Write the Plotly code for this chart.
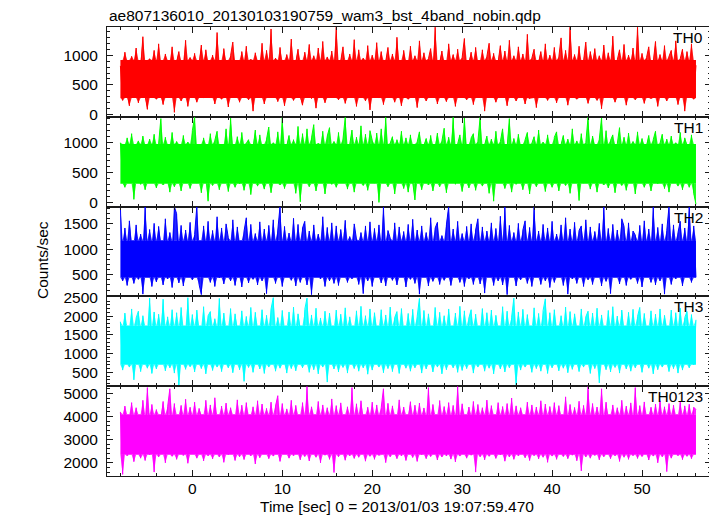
import numpy as np
import plotly.graph_objects as go
from plotly.subplots import make_subplots

# ---------------- data (counts/sec) ----------------
t_start = -8.0      # sec, time of first sample
bin_dt = 0.25       # sec between samples

th0 = [820, 240, 1050, 380, 150, 980, 620, 1120, 200, 760, 1310, 330, 90, 940, 510, 1080,
       260, 1190, 450, 170, 1020, 700, 300, 1140, 40, 880, 1060, 230, 610, 1250, 140, 960,
       350, 1030, 210, 820, 1170, 280, 1090, 560, 310, 1000, 180, 1380, 420, 260, 1110, 670,
       130, 990, 1220, 340, 800, 210, 1060, 470, 1150, 250, 930, 60, 1040, 720, 290, 1200,
       180, 1080, 530, 1440, 300, 950, 220, 1130, 640, 150, 1010, 390, 1270, 240, 870, 1100,
       320, 160, 1050, 740, 1180, 270, 990, 110, 1120, 460, 1230, 200, 970, 580, 1070, 340,
       1470, 250, 900, 1140, 190, 660, 1020, 300, 1260, 140, 1090, 420, 950, 230, 1160, 80,
       1000, 560, 1210, 280, 1060, 170, 890, 1130, 350, 1020, 210, 1300, 490, 150, 1080, 710,
       260, 1150, 380, 990, 120, 1240, 600, 1040, 230, 940, 1110, 310, 1470, 180, 850, 1070,
       400, 220, 1190, 690, 1010, 140, 1100, 330, 960, 1280, 250, 790, 1050, 170, 1130, 520,
       290, 1090, 60, 980, 1200, 360, 1030, 210, 880, 1160, 300, 1070, 150, 1250, 440, 990,
       230, 1140, 610, 1020, 180, 1350, 270, 950, 1100, 120, 860, 1060, 330, 1190, 240, 1000,
       410, 1130, 200, 970, 1290, 320, 1080, 160, 1470, 540, 1010, 260, 1150, 380, 900, 1220,
       190, 1060, 730, 1110, 240, 990, 100, 1170, 450, 1040, 280, 1320, 210, 920, 1090, 350,
       1180, 160, 1000, 620, 1120, 250, 1470, 330, 1030, 190, 960, 1140, 270, 880, 1230, 140,
       1010, 500, 1160, 230, 980, 1080, 310, 1240, 170, 940, 1100, 60, 1060, 380, 1190, 260,
       830]

th1 = [1000, 420, 260, 1080, 690, 1150, 60, 910, 1030, 310, 1110, 220, 780, 1060, 380, 1140,
       250, 980, 1400, 300, 1090, 530, 180, 1170, 270, 1020, 840, 200, 1120, 360, 1010, 240,
       1200, 1420, 330, 940, 170, 1080, 620, 30, 1150, 290, 1040, 1190, 220, 960, 450, 1230,
       190, 1410, 710, 260, 1100, 320, 1170, 210, 990, 1050, 140, 880, 1210, 280, 1130, 390,
       230, 1060, 1260, 170, 1000, 560, 1180, 300, 1420, 240, 940, 1120, 350, 1050, 160, 1270,
       20, 1150, 480, 1230, 270, 1080, 1300, 200, 990, 650, 1190, 150, 1110, 1250, 310, 1020,
       260, 1170, 400, 1060, 1420, 230, 970, 1210, 180, 1090, 580, 1280, 290, 1140, 210, 1200,
       1040, 330, 1160, 10, 1230, 470, 1420, 270, 990, 1100, 150, 1050, 760, 1190, 240, 1080,
       180, 1130, 350, 50, 1010, 1180, 220, 940, 1070, 300, 1120, 200, 860, 1160, 270, 1030,
       1240, 170, 1090, 540, 1420, 310, 980, 1130, 190, 1410, 620, 250, 1080, 1150, 210, 1020,
       1420, 280, 960, 1110, 160, 1060, 30, 1190, 400, 1020, 1230, 240, 910, 1400, 180, 1070,
       310, 1140, 700, 220, 1050, 1170, 150, 990, 1100, 270, 1210, 340, 1010, 190, 1130, 520,
       260, 1090, 1180, 200, 970, 1120, 290, 1060, 160, 1230, 480, 1030, 40, 1150, 330, 1000,
       1420, 230, 1110, 860, 180, 1060, 1410, 300, 1200, 250, 1040, 1130, 170, 980, 1250, 290,
       1090, 210, 1160, 610, 1020, 150, 1180, 360, 1070, 260, 940, 1120, 200, 1050, 1190, 320,
       990, 1140, 240, 1060, 180, 1110, 540, 1000, 280, 1170, 220, 1080, 940, 260, 1130, 160,
       -20]

th2 = [1840, 380, 1420, 290, 1560, 860, 330, 1480, 410, 1300, 120, 1840, 520, 1390, 270, 1510,
       360, 1450, 980, 300, 1600, 420, 1330, 250, 1840, 1700, 340, 1470, 280, 1380, 730, 1530,
       400, 1290, 1840, 310, 110, 1460, 620, 1550, 350, 1370, 270, 1640, 440, 1420, 320, 1500,
       1230, 380, 1580, 290, 1440, 830, 260, 1360, 1620, 340, 1490, 410, 1310, 300, 1540, 380,
       1400, 130, 1470, 700, 1580, 330, 1380, 1840, 270, 1450, 520, 1320, 390, 1610, 280, 1490,
       350, 1420, 1550, 300, 1360, 110, 1480, 650, 1300, 420, 1640, 270, 1430, 380, 1520, 330,
       1460, 290, 1390, 900, 1570, 350, 1250, 420, 1500, 1200, 310, 1330, 130, 1460, 380, 1540,
       270, 1410, 620, 1480, 340, 1840, 280, 1370, 1220, 390, 1520, 300, 1440, 720, 1350, 260,
       1490, 410, 1590, 330, 1380, 120, 1460, 540, 1330, 280, 1620, 370, 1420, 1530, 310, 1270,
       390, 1480, 1840, 290, 1400, 660, 1550, 350, 1310, 270, 1450, 420, 1500, 310, 1380, 1600,
       320, 1440, 140, 1360, 810, 1520, 290, 1410, 380, 1650, 300, 1840, 110, 1470, 560, 1330,
       280, 1510, 400, 1380, 1560, 330, 1430, 270, 1840, 620, 1360, 310, 1490, 380, 1420, 250,
       1550, 350, 1300, 720, 1480, 290, 1620, 120, 1400, 420, 1530, 330, 1370, 1460, 270, 1580,
       400, 1440, 310, 1350, 900, 1510, 280, 1840, 370, 1410, 130, 1490, 560, 1380, 320, 1600,
       1450, 290, 1520, 410, 1360, 1280, 330, 1470, 260, 1560, 700, 1400, 350, 1840, 300, 1430,
       380, 1500, 120, 1370, 1840, 310, 1480, 420, 1330, 1550, 280, 1420, 640, 1840, 350, 1460,
       450]

th3 = [1850, 560, 2080, 980, 640, 2190, 300, 1950, 2130, 520, 2010, 1400, 610, 2480, 470, 2110,
       590, 2050, 1200, 2450, 540, 1980, 620, 2170, 480, 2090, 130, 2230, 1100, 580, 2490, 650,
       2040, 510, 2160, 1300, 600, 2250, 460, 2010, 2120, 550, 1930, 640, 2470, 520, 2080, 900,
       620, 2200, 490, 2060, 1500, 570, 2140, 260, 1990, 630, 2230, 500, 2100, 1250, 590, 2170,
       470, 2020, 640, 2190, 2490, 530, 1960, 610, 2150, 1050, 480, 2110, 600, 2240, 540, 2060,
       1600, 620, 2180, 2480, 500, 2030, 570, 2210, 460, 1950, 640, 2130, 240, 2080, 1350, 590,
       2160, 510, 2050, 630, 2220, 480, 1980, 1150, 600, 2140, 530, 2260, 620, 2010, 450, 2190,
       560, 2090, 1450, 640, 2170, 490, 2030, 600, 2240, 520, 1960, 2120, 470, 2200, 1000, 610,
       2070, 530, 2180, 620, 1990, 2470, 480, 2150, 590, 2060, 1300, 510, 2230, 640, 2100, 460,
       2010, 570, 2190, 1200, 620, 2080, 500, 2260, 550, 2140, 600, 1950, 2170, 480, 2050, 640,
       1100, 2200, 530, 2090, 610, 2160, 460, 2020, 1400, 590, 2250, 510, 2130, 620, 1970, 2480,
       130, 2110, 560, 2180, 640, 2040, 980, 500, 2220, 600, 2070, 530, 2150, 2460, 470, 2090,
       620, 2170, 1250, 540, 2010, 610, 2240, 490, 2120, 580, 2060, 1500, 520, 2190, 640, 1980,
       2130, 470, 2080, 600, 2210, 220, 2030, 1100, 570, 2150, 510, 2250, 630, 2000, 480, 2160,
       1350, 590, 2100, 530, 2180, 620, 1990, 2230, 500, 2070, 1200, 610, 2140, 460, 2050, 570,
       2190, 640, 2020, 1450, 520, 2160, 600, 2090, 480, 2210, 560, 1960, 2120, 620, 2040, 700,
       1900]

th0123 = [4200, 1500, 4450, 2300, 3300, 4600, 2050, 4380, 2900, 2200, 4700, 2100, 5250, 2350, 4520, 1600,
          4300, 2250, 3700, 4650, 2000, 4420, 5200, 2280, 4560, 2150, 3100, 4480, 2320, 4750, 1980, 4400,
          2600, 4620, 2200, 4350, 3900, 2080, 4700, 2300, 4500, 2170, 4810, 2900, 2250, 4450, 2020, 4580,
          2350, 4380, 3500, 2100, 4720, 2260, 4490, 2140, 4600, 3200, 2300, 4420, 1950, 4680, 2220, 4540,
          2800, 4350, 2180, 4620, 2290, 4450, 4900, 2060, 4560, 2400, 4330, 2200, 4700, 2310, 4480, 3000,
          2130, 4600, 2270, 5300, 2080, 4420, 3600, 2240, 4650, 2000, 4500, 2330, 4380, 2150, 4760, 1580,
          4470, 2260, 4590, 2950, 2110, 4420, 2300, 5250, 2190, 4550, 2240, 4680, 3400, 2070, 4400, 2280,
          4620, 2150, 4500, 2320, 4380, 5200, 2010, 4570, 2260, 4460, 2900, 2180, 4720, 2300, 4410, 2100,
          3800, 4640, 2230, 4490, 2060, 4580, 2350, 4370, 2180, 5250, 2270, 4520, 3100, 2120, 4690, 2250,
          4430, 2300, 4600, 2160, 4480, 2040, 5300, 2290, 4550, 3300, 2200, 4410, 2330, 4650, 1600, 4520,
          2260, 4380, 2130, 4710, 2280, 4470, 2900, 2190, 4600, 2340, 4430, 2070, 4560, 2250, 4800, 2150,
          4460, 2300, 4380, 3600, 2220, 4620, 2100, 4500, 2310, 4410, 2170, 4680, 2240, 4540, 2020, 4430,
          2290, 4600, 2150, 4470, 3000, 2270, 4850, 2180, 4520, 2330, 4390, 2090, 4660, 1650, 4480, 2250,
          5300, 2200, 4560, 2320, 4410, 2130, 5200, 2260, 4620, 3400, 2180, 4500, 2300, 4380, 2060, 4700,
          2240, 4450, 2150, 4590, 2310, 5250, 2190, 4470, 2270, 4630, 2800, 2120, 4400, 2290, 4540, 2000,
          4680, 2260, 4420, 1620, 4560, 2200, 4490, 3200, 2310, 4620, 2140, 4460, 2280, 4530, 2180, 4400,
          4300]

# dense (saturated) part of each band
core_lo = [280, 320, 440, 700, 2350]
core_hi = [920, 980, 1180, 1750, 4100]

band_names = ["TH0", "TH1", "TH2", "TH3", "TH0123"]
band_colors = ["#FF0000", "#00FF00", "#0000FF", "#00FFFF", "#FF00FF"]
fringe_colors = ["rgba(255,0,0,0.85)", "rgba(0,255,0,0.85)", "rgba(0,0,255,0.85)",
                 "rgba(0,255,255,0.85)", "rgba(255,0,255,0.85)"]
y_ranges = [[-35, 1473], [-60, 1430], [75, 1840], [130, 2525], [1430, 5310]]
y_dticks = [500, 500, 500, 500, 1000]
y_minor = [100, 100, 100, 100, 200]
x_range = [-9.49, 57.67]

title_text = "ae807136010_20130103190759_wam3_bst_4band_nobin.qdp"
x_title = "Time [sec] 0 = 2013/01/03 19:07:59.470"
y_title = "Counts/sec"

series = [th0, th1, th2, th3, th0123]

FONT = "Liberation Sans, Arial, Helvetica, sans-serif"
FS = 15.5
AX = "#1a1a1a"

fig = make_subplots(rows=5, cols=1, shared_xaxes=True, vertical_spacing=0)


def poly(xs, ys, color, row):
    fig.add_trace(go.Scatter(
        x=xs, y=ys, mode="lines", fill="toself", fillcolor=color,
        line=dict(width=0, color=color), hoverinfo="skip",
        showlegend=False), row=row, col=1)


for k in range(5):
    y = np.asarray(series[k], dtype=float)
    t = t_start + bin_dt * np.arange(len(y))
    x0, x1 = t.min(), t.max()
    lo_line = np.full_like(y, core_lo[k])
    hi_line = np.full_like(y, core_hi[k])
    # excursions of the light curve beyond the dense core
    poly(np.concatenate([t, t[::-1]]),
         np.concatenate([np.maximum(y, hi_line), hi_line[::-1]]), fringe_colors[k], k + 1)
    poly(np.concatenate([t, t[::-1]]),
         np.concatenate([np.minimum(y, lo_line), lo_line[::-1]]), fringe_colors[k], k + 1)
    # dense core
    poly([x0, x1, x1, x0, x0],
         [core_lo[k], core_lo[k], core_hi[k], core_hi[k], core_lo[k]], band_colors[k], k + 1)
    # the light curve itself
    fig.add_trace(go.Scatter(
        x=t, y=y, mode="lines",
        line=dict(color=band_colors[k], width=1),
        showlegend=False), row=k + 1, col=1)

axis_common = dict(
    showline=True, linecolor=AX, linewidth=1, mirror="allticks",
    ticks="inside", tickcolor=AX, showgrid=False, zeroline=False,
    tickfont=dict(family=FONT, size=FS, color="black"),
)

for k in range(5):
    fig.update_xaxes(
        range=x_range, tick0=0, dtick=10, ticklen=6,
        ticklabelstandoff=-2,
        minor=dict(dtick=2, ticks="inside", ticklen=3, tickcolor=AX),
        showticklabels=(k == 4), **axis_common, row=k + 1, col=1)
    fig.update_yaxes(
        range=y_ranges[k], tick0=0, dtick=y_dticks[k], ticklen=6,
        ticklabelstandoff=5,
        minor=dict(dtick=y_minor[k], ticks="inside", ticklen=3, tickcolor=AX),
        **axis_common, row=k + 1, col=1)

annotations = []
for k in range(5):
    yref = "y domain" if k == 0 else f"y{k + 1} domain"
    annotations.append(dict(
        text=band_names[k], xref="paper", x=0.99, xanchor="right",
        yref=yref, y=1, yanchor="top", yshift=0, showarrow=False,
        font=dict(family=FONT, size=FS, color="black")))

annotations.append(dict(text=title_text, xref="paper", x=0, xanchor="left",
                        yref="paper", y=1, yanchor="bottom", yshift=1,
                        showarrow=False, font=dict(family=FONT, size=FS, color="black")))
annotations.append(dict(text=x_title, xref="paper", x=0.48, xanchor="center",
                        yref="paper", y=0, yanchor="top", yshift=-20,
                        showarrow=False, font=dict(family=FONT, size=FS, color="black")))
annotations.append(dict(text=y_title, xref="paper", x=0, xanchor="center",
                        xshift=-65, yref="paper", y=0.481, yanchor="middle",
                        textangle=-90, showarrow=False,
                        font=dict(family=FONT, size=FS, color="black")))

# the page body has an 8px margin, so the figure is sized to fit the window
fig.update_layout(
    width=709, height=508,
    margin=dict(l=99, r=6, t=19, b=40),
    paper_bgcolor="white", plot_bgcolor="white",
    annotations=annotations,
    showlegend=False,
)

fig.write_html("out.html")
